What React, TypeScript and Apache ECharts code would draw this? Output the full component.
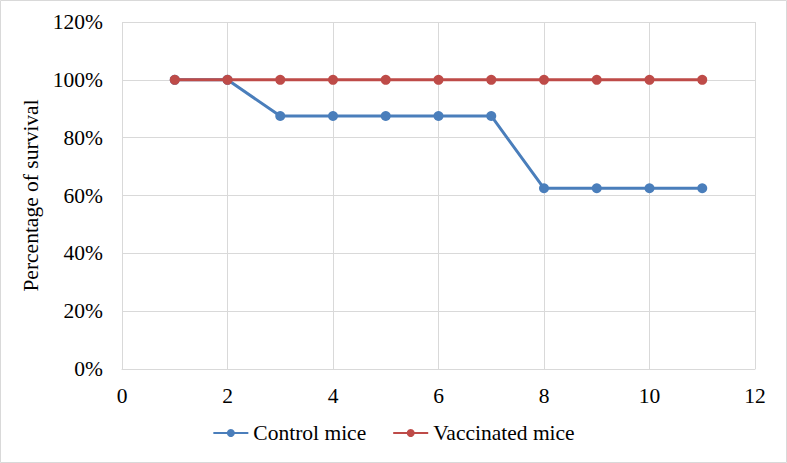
import React, { useEffect, useRef } from "react";
import * as echarts from "echarts";

const days = [1, 2, 3, 4, 5, 6, 7, 8, 9, 10, 11];
const controlMice = [100, 100, 87.5, 87.5, 87.5, 87.5, 87.5, 62.5, 62.5, 62.5, 62.5];
const vaccinatedMice = [100, 100, 100, 100, 100, 100, 100, 100, 100, 100, 100];
const seriesNames = ["Control mice", "Vaccinated mice"];

export default function App() {
  const ref = useRef<HTMLDivElement>(null);
  useEffect(() => {
    document.body.style.margin = "0";
    const chart = echarts.init(ref.current!, null, { renderer: "svg" });
    const font = "Liberation Serif";
    chart.setOption({
      animation: false,
      backgroundColor: "#ffffff",
      textStyle: { fontFamily: font },
      graphic: [
        {
          type: "rect",
          shape: { x: 0.5, y: 0.5, width: 786, height: 462 },
          style: { fill: "none", stroke: "#d9d9d9", lineWidth: 1 },
          silent: true,
        },
      ],
      grid: { left: 122, right: 32, top: 22, bottom: 94 },
      legend: {
        bottom: 14,
        left: "center",
        itemWidth: 35,
        itemHeight: 10,
        itemGap: 26,
        formatter: (name: string) => "{t|" + name + "}",
        textStyle: {
          fontFamily: font,
          fontSize: 21.5,
          color: "#000",
          rich: { t: { fontFamily: font, fontSize: 21.5, color: "#000" } },
        },
        data: seriesNames,
      },
      xAxis: {
        type: "value",
        min: 0,
        max: 12,
        interval: 2,
        axisLine: { show: true, lineStyle: { color: "#d9d9d9", width: 1 } },
        axisTick: { show: false },
        splitLine: { show: true, lineStyle: { color: "#d9d9d9", width: 1 } },
        axisLabel: { fontFamily: font, fontSize: 21.5, color: "#000", margin: 16 },
      },
      yAxis: {
        type: "value",
        min: 0,
        max: 120,
        interval: 20,
        name: "Percentage of survival",
        nameLocation: "middle",
        nameGap: 70,
        nameTextStyle: { fontFamily: font, fontSize: 21.5, color: "#000" },
        axisLine: { show: false },
        axisTick: { show: false },
        splitLine: { show: true, lineStyle: { color: "#d9d9d9", width: 1 } },
        axisLabel: {
          fontFamily: font,
          fontSize: 21.5,
          color: "#000",
          margin: 19,
          formatter: (v: number) => v + "%",
        },
      },
      series: [
        {
          name: seriesNames[0],
          type: "line",
          data: days.map((d, i) => [d, controlMice[i]]),
          symbol: "circle",
          symbolSize: 10,
          color: "#4a7ebb",
          lineStyle: { width: 3, color: "#4a7ebb" },
          itemStyle: { color: "#4a7ebb" },
          z: 2,
        },
        {
          name: seriesNames[1],
          type: "line",
          data: days.map((d, i) => [d, vaccinatedMice[i]]),
          symbol: "circle",
          symbolSize: 10,
          color: "#be4b48",
          lineStyle: { width: 3, color: "#be4b48" },
          itemStyle: { color: "#be4b48" },
          z: 3,
        },
      ],
    });
    return () => chart.dispose();
  }, []);
  return <div ref={ref} style={{ width: 787, height: 463 }} />;
}
